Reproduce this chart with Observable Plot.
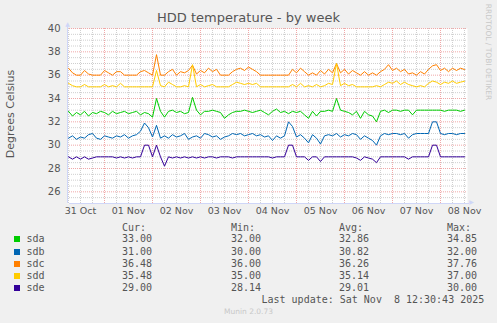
<!DOCTYPE html>
<html><head><meta charset="utf-8">
<script src="https://cdn.jsdelivr.net/npm/d3@7"></script>
<script src="https://cdn.jsdelivr.net/npm/@observablehq/plot@0.6"></script>
<style>
html,body{margin:0;padding:0;background:#F0F0F0;}
#wrap{position:relative;width:497px;height:323px;overflow:hidden;background:#F0F0F0;}
#wrap svg{position:absolute;left:0;top:0;}
.t{position:absolute;white-space:pre;color:#555;}
.mono{font-family:"DejaVu Sans Mono",monospace;font-size:10px;line-height:12px;}
</style></head><body><div id="wrap"></div>
<script>
const series = ["sda","sdb","sdc","sdd","sde"];
const colors = ["#00CC00","#0066B3","#FF8000","#FFCC00","#330099"];
const curVals = ["33.00","31.00","36.48","35.48","29.00"];
const minVals = ["32.00","30.00","36.00","35.00","28.14"];
const avgVals = ["32.86","30.82","36.26","35.14","29.01"];
const maxVals = ["34.85","32.00","37.76","37.00","30.00"];
const yTicks = [26,28,30,32,34,36,38,40];
const title = "HDD temperature - by week";
const yLabel = "Degrees Celsius";
const lastUpdate = "Last update: Sat Nov  8 12:30:43 2025";

const sda = [32.9,32.5,32.8,32.6,32.9,32.5,32.8,32.7,32.9,32.8,
 32.6,32.9,32.7,32.8,32.9,32.7,32.8,32.9,32.6,32.8,
 32.7,32.4,34.0,32.9,32.4,32.9,33.0,32.8,32.9,32.7,
 32.8,34.1,33.0,32.6,32.9,32.9,33.0,32.9,32.8,32.3,
 32.6,32.8,32.9,32.9,33.0,32.9,32.8,32.9,33.0,32.8,
 32.6,32.9,33.1,32.8,32.9,32.7,32.9,32.8,32.9,32.6,
 32.3,32.9,32.5,32.9,32.9,33.0,32.9,34.0,33.0,32.9,
 32.8,32.6,32.9,32.3,32.9,32.6,32.5,32.0,32.9,33.0,
 32.8,33.0,33.0,32.9,33.0,33.0,32.6,33.0,33.0,33.0,
 33.0,33.0,33.0,33.0,32.9,33.0,33.0,33.0,32.9,33.0];
const sdb = [30.6,30.8,30.5,30.7,30.6,30.9,31.0,30.6,30.5,30.8,
 30.7,30.6,30.8,30.7,30.9,30.6,30.8,30.9,31.2,31.9,
 31.5,30.7,31.7,30.6,30.8,30.6,30.9,30.7,30.8,31.0,
 30.5,30.7,30.8,30.6,31.0,30.9,30.7,30.8,30.5,30.7,
 30.8,31.0,30.9,31.0,30.8,30.9,31.0,30.8,30.9,30.7,
 30.8,30.4,30.8,30.6,30.8,32.0,31.6,30.7,30.9,30.6,
 30.2,30.9,30.6,30.1,30.8,30.9,30.8,31.0,30.7,30.9,
 30.8,31.0,30.9,30.5,30.8,30.6,30.4,30.0,30.8,31.0,
 30.9,31.0,31.0,30.9,31.0,30.6,30.9,31.0,31.0,31.0,
 31.0,32.0,32.0,31.0,30.9,31.0,31.0,30.9,31.0,31.0];
const sdc = [36.6,36.2,36.0,36.0,36.4,36.1,36.0,36.0,36.0,36.4,
 36.2,36.0,36.3,36.3,36.0,36.0,36.0,36.0,36.3,36.4,
 36.2,36.0,37.76,36.0,36.0,36.3,36.5,36.0,36.3,36.2,
 36.4,36.85,36.1,36.4,36.2,36.6,36.3,36.5,36.0,36.0,
 36.0,36.3,36.5,36.6,36.4,36.7,36.5,36.3,36.0,36.0,
 36.0,36.0,36.0,36.0,36.0,36.0,36.5,36.2,36.6,36.3,
 36.0,36.2,36.0,36.4,36.1,36.5,36.2,37.0,36.2,36.5,
 36.1,36.4,36.2,36.0,36.3,36.0,36.2,36.0,36.3,36.5,
 36.9,36.4,36.6,36.3,36.5,36.1,36.2,36.0,36.3,36.1,
 36.5,36.8,36.9,36.4,36.6,36.3,36.6,36.4,36.6,36.48];
const sdd = [35.3,35.1,35.0,35.0,35.2,35.0,35.0,35.0,35.0,35.2,
 35.0,35.1,35.0,35.3,35.0,35.0,35.0,35.0,35.0,35.0,
 35.0,35.0,36.4,35.1,35.0,35.4,35.2,35.0,35.0,35.1,
 35.0,36.9,35.0,35.2,35.0,35.1,35.2,35.0,35.0,35.0,
 35.0,35.2,35.4,35.3,35.2,35.3,35.2,35.3,35.0,35.0,
 35.0,35.0,35.0,35.0,35.0,35.0,35.2,35.0,35.3,35.0,
 35.1,35.0,35.2,35.0,35.1,35.3,35.2,37.0,35.1,35.3,
 35.1,35.2,35.0,35.0,35.0,35.0,35.0,35.1,35.0,35.2,
 35.4,35.3,35.5,35.2,35.4,35.2,35.1,35.0,35.1,35.0,
 35.3,35.5,35.4,35.2,35.4,35.3,35.5,35.3,35.4,35.48];
const sde = [29.0,28.8,29.0,28.8,29.0,28.8,28.9,29.0,29.0,29.0,
 29.0,29.0,28.9,29.0,28.9,29.0,28.9,29.0,29.0,30.0,
 30.0,29.0,30.0,29.0,28.2,29.0,28.9,29.0,28.9,29.0,
 28.9,29.0,28.9,29.0,28.9,29.0,29.0,28.9,29.0,29.0,
 29.0,28.9,29.0,29.0,29.0,29.0,29.0,29.0,29.0,29.0,
 29.0,28.9,29.0,29.0,29.0,30.0,30.0,29.0,29.0,29.0,
 28.7,29.0,29.0,28.6,29.0,29.0,29.0,29.0,29.0,29.0,
 29.0,29.0,28.9,28.7,29.0,28.9,28.8,28.5,29.0,29.0,
 29.0,29.0,29.0,29.0,29.0,28.8,29.0,29.0,29.0,29.0,
 29.0,30.0,30.0,29.0,29.0,29.0,29.0,29.0,29.0,29.0];

const H = 3600e3;
const t0 = Date.UTC(2025,9,31,5,30);
const t1 = Date.UTC(2025,10,8,13,30);
const firstSample = Date.UTC(2025,9,31,6,0);
const values = [sda,sdb,sdc,sdd,sde];
const rows = [];
values.forEach((arr,k)=>arr.forEach((v,i)=>rows.push({s:series[k], t:new Date(firstSample+i*2*H), v})));

const sixH = d3.range(Math.ceil(t0/(6*H))*6*H, t1, 6*H);
const minorX = sixH.filter(d=>d%(24*H)!==0).map(d=>new Date(d));
const majorX = sixH.filter(d=>d%(24*H)===0).map(d=>new Date(d));
const noonTicks = d3.range(Date.UTC(2025,9,31,12), t1, 24*H).map(d=>new Date(d));
const minorY = d3.range(25.5,40.01,0.5).filter(v=>v%2!==0);
const majorY = yTicks;
const axisCol = "#CFD6F8";
const font = "DejaVu Sans, sans-serif";

const chart = Plot.plot({
  width:497, height:323,
  marginLeft:67, marginRight:30, marginTop:28, marginBottom:120,
  style:{background:"transparent", fontFamily:font, fontSize:"9.5px", color:"#555"},
  x:{type:"utc", domain:[new Date(t0), new Date(t1)]},
  y:{domain:[25,40]},
  color:{domain:series, range:colors},
  marks:[
    Plot.frame({fill:"white", stroke:null}),
    Plot.ruleX(minorX, {stroke:"#cfcfcf", strokeDasharray:"1,1", strokeWidth:1}),
    Plot.ruleY(minorY, {stroke:"#cfcfcf", strokeDasharray:"1,1", strokeWidth:1}),
    Plot.ruleX(majorX, {stroke:"#f0a8a8", strokeDasharray:"1,1", strokeWidth:1}),
    Plot.ruleY(majorY, {stroke:"#f0a8a8", strokeDasharray:"1,1", strokeWidth:1}),
    Plot.axisY({ticks:yTicks, tickSize:0, tickPadding:7, fontSize:10, label:null, fill:"#555"}),
    Plot.axisX({ticks:noonTicks, tickSize:0, tickPadding:4, tickFormat:d3.utcFormat("%d %b"), label:null, fill:"#555"}),
    Plot.line(rows, {x:"t", y:"v", z:"s", stroke:"s", strokeWidth:1, strokeLinejoin:"miter"}),
    Plot.ruleX([new Date(t0)], {y1:25, y2:40.3, stroke:axisCol}),
    Plot.ruleY([25], {x1:new Date(t0), x2:new Date(t1), stroke:axisCol, dx:2}),
    Plot.text([new Date(t0)], {x:d=>d, y:40, text:["▲"], fill:axisCol, fontSize:6, dy:-4, clip:false}),
    Plot.text([new Date(t1)], {x:d=>d, y:25, text:["▶"], fill:axisCol, fontSize:6, dx:4, dy:-1, clip:false})
  ]
});
const wrap = document.getElementById("wrap");
wrap.appendChild(chart);

function add(txt, css, cls){
  const d=document.createElement("div"); d.className="t "+(cls||""); d.textContent=txt;
  Object.assign(d.style, css); wrap.appendChild(d); return d;
}
add(title,{left:"0px",width:"497px",textAlign:"center",top:"10px",fontFamily:font,fontSize:"13px",lineHeight:"16px",color:"#555"});
add(yLabel,{left:"10.5px",top:"114px",fontFamily:font,fontSize:"11px",lineHeight:"12px",transform:"translate(-50%,-50%) rotate(-90deg)",color:"#555"});
add("RRDTOOL / TOBI OETIKER",{left:"488px",top:"52px",fontFamily:font,fontSize:"7.5px",lineHeight:"9px",transform:"translate(-50%,-50%) rotate(90deg)",color:"#c8c8c8"});
const cols=[122,231,339,447];
["Cur:","Min:","Avg:","Max:"].forEach((h,i)=>add(h,{left:cols[i]+"px",top:"222px"},"mono"));
const rowY=[239.3,251.6,263.8,275.9,288];
series.forEach((s,k)=>{
  const sq=document.createElement("div");
  Object.assign(sq.style,{position:"absolute",left:"14px",top:(rowY[k]-3)+"px",width:"6px",height:"6px",background:colors[k]});
  wrap.appendChild(sq);
  add(s,{left:"26.5px",top:(rowY[k]-6)+"px"},"mono");
  [curVals,minVals,avgVals,maxVals].forEach((a,j)=>add(a[k],{left:cols[j]+"px",top:(rowY[k]-6)+"px"},"mono"));
});
add(lastUpdate,{left:"261.5px",top:"293.5px"},"mono");
add("Munin 2.0.73",{left:"0px",width:"497px",textAlign:"center",top:"307px",fontFamily:font,fontSize:"7.5px",lineHeight:"10px",color:"#c8c8c8"});
</script></body></html>
